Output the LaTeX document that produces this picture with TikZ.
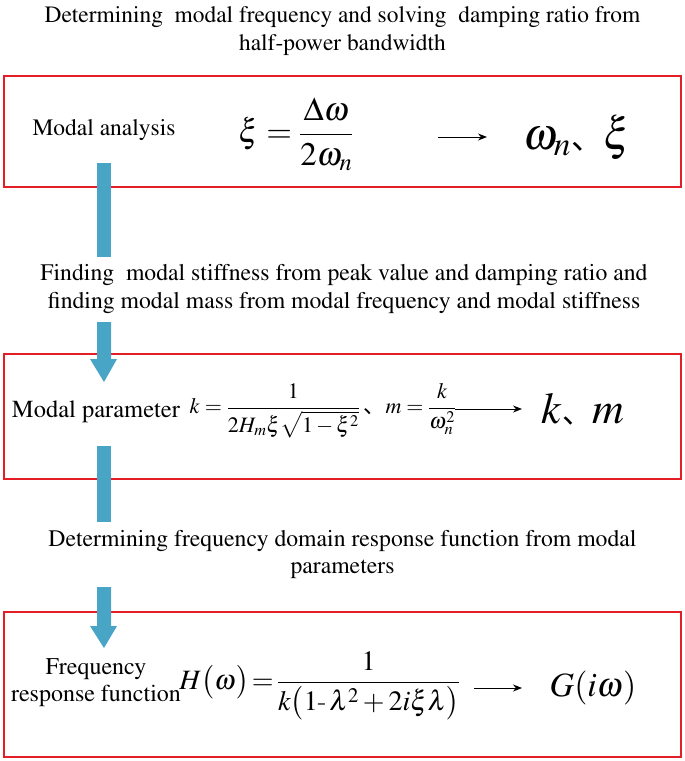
\documentclass[tikz,border=0pt]{standalone}
\usepackage{amsmath}
\usepackage{mathptmx}
\usepackage{fontspec}
\newfontfamily\cjk{Noto Sans CJK SC}
\newcommand\timesfont{\fontencoding{OT1}\fontfamily{ptm}\selectfont}
\usetikzlibrary{arrows.meta}
\definecolor{boxred}{RGB}{228,30,38}
\definecolor{flowblue}{RGB}{72,165,197}
\tikzset{
  redbox/.style={draw=boxred, line width=2.2pt, minimum width=677pt, inner sep=0pt},
  caption/.style={align=center, inner sep=0pt, font=\timesfont\fontsize{23.7}{27.5}\selectfont},
  boxlabel/.style={inner sep=0pt, align=center, font=\timesfont\fontsize{23.5}{27}\selectfont},
  formula/.style={inner sep=0pt},
  result/.style={inner sep=0pt},
  thinarrow/.style={-{Stealth[length=9pt,width=7pt]}, line width=0.9pt}
}
\begin{document}
\begin{tikzpicture}[x=1pt,y=-1pt]
\useasboundingbox (0,0) rectangle (685,761);
% captions
\node[caption, font=\timesfont\fontsize{23.4}{27.5}\selectfont] (c1) at (342.5,31) {Determining\ \ modal frequency and solving\ \ damping ratio from\\half-power bandwidth};
\node[caption] (c2) at (344,289) {Finding\ \ modal stiffness from peak value and damping ratio and\\finding modal mass from modal frequency and modal stiffness};
\node[caption] (c3) at (342.5,554.5) {Determining frequency domain response function from modal\\parameters};
% boxes
\node[redbox, minimum height=111pt] (b1) at (342.5,131.5) {};
\node[redbox, minimum height=125pt] (b2) at (342.5,416.5) {};
\node[redbox, minimum height=145pt] (b3) at (342.5,684.5) {};
% block arrows
\fill[flowblue] (97,163) rectangle (111,257);
\fill[flowblue] (97,322) -- (111,322) -- (111,359) -- (117,359) -- (104,382) -- (90,359) -- (97,359) -- cycle;
\fill[flowblue] (97,446) rectangle (111,522);
\fill[flowblue] (97,587) -- (111,587) -- (111,626) -- (117,626) -- (104,648) -- (90,626) -- (97,626) -- cycle;
% box 1
\node[boxlabel] (l1) at (104,130) {Modal analysis};
\node[formula, font=\fontsize{33}{38}\selectfont] (f1) at (296,134) {$\xi=\dfrac{\Delta\omega}{2\omega_n}$};
\coordinate (a1s) at (438,137);
\coordinate (a1e) at (487,137);
\draw[thinarrow] (a1s) -- (a1e);
\node[result, font=\fontsize{45}{50}\selectfont] (r1) at (577,137) {$\omega_n${\cjk\fontsize{32}{36}\selectfont 、}$\xi$};
% box 2
\node[boxlabel, font=\timesfont\fontsize{24.5}{27}\selectfont] (l2) at (96,412) {Modal parameter};
\node[formula, font=\fontsize{22}{26}\selectfont] (f2) at (323,411) {$k=\dfrac{1}{2H_m\xi\sqrt{1-\xi^2}}$\,{\cjk 、}$m=\dfrac{k}{\omega_n^2}$};
\coordinate (a2s) at (455,409);
\coordinate (a2e) at (522,409);
\draw[thinarrow] (a2s) -- (a2e);
\node[result, font=\fontsize{44}{48}\selectfont] (r2) at (583,409) {$k${\cjk\fontsize{30}{34}\selectfont 、}$m$};
% box 3
\node[boxlabel, font=\timesfont\fontsize{24}{27}\selectfont] (l3) at (96,683) {Frequency\\response function};
\node[formula, font=\fontsize{28}{32}\selectfont] (f3) at (320,686) {$H\bigl(\omega\bigr)\!=\!\dfrac{1}{k\bigl(1\mbox{-}\,\lambda^2+2i\xi\lambda\bigr)}$};
\coordinate (a3s) at (474,688);
\coordinate (a3e) at (522,688);
\draw[thinarrow] (a3s) -- (a3e);
\node[result, font=\fontsize{34}{38}\selectfont] (r3) at (593,688) {$G(i\omega)$};
\end{tikzpicture}
\end{document}
